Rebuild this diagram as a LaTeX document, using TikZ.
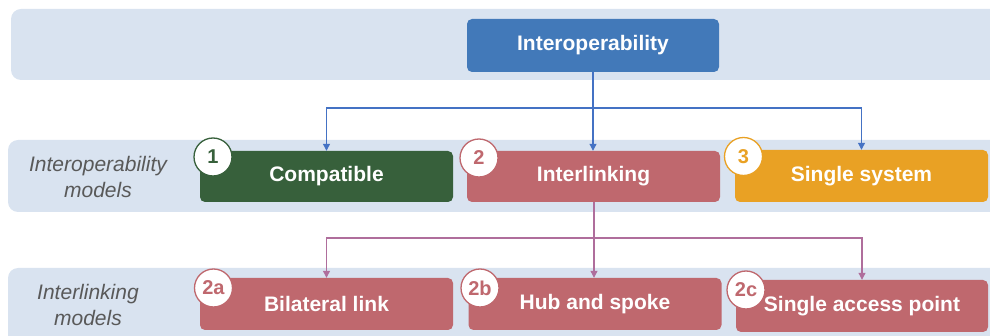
\documentclass[tikz,border=0pt]{standalone}
\usepackage{fontspec}
\setmainfont{Liberation Sans}
\usetikzlibrary{arrows.meta}
\definecolor{bandfill}{HTML}{D9E3F0}
\definecolor{topblue}{HTML}{4279B9}
\definecolor{compgreen}{HTML}{37603B}
\definecolor{linkrose}{HTML}{BF686E}
\definecolor{sysorange}{HTML}{E9A124}
\definecolor{labelgray}{HTML}{595959}
\definecolor{bluewire}{HTML}{4472C4}
\definecolor{rosewire}{HTML}{AF6E9C}
\tikzset{
  band/.style={fill=bandfill, draw=none, rounded corners=10pt},
  box/.style={draw=none, rounded corners=5pt, minimum width=253pt, minimum height=52pt,
    inner sep=0pt, text=white, font=\fontsize{21}{25}\selectfont\bfseries},
  badge/.style={circle, fill=white, draw=#1, line width=1.3pt, minimum size=38pt,
    inner sep=0pt, text=#1, font=\fontsize{20}{24}\selectfont\bfseries},
  rowlabel/.style={align=center, text=labelgray, font=\fontsize{21}{26}\selectfont\itshape},
  bluelink/.style={draw=bluewire, line width=1.1pt},
  roselink/.style={draw=rosewire, line width=1.1pt},
  tip/.style={-{Triangle[length=7pt,width=7pt]}}
}
\begin{document}
\begin{tikzpicture}[x=1pt, y=-1pt]
  \useasboundingbox (0,0) rectangle (990,336);
  \clip (0,0) rectangle (990,336);

  % background bands for the three levels
  \path[band] (11,9) rectangle (1010,80);
  \path[band] (8,140) rectangle (1010,212);
  \path[band] (8,268) rectangle (1010,346);

  % row labels
  \node[rowlabel] (lab1) at (98,177) {Interoperability\\models};
  \node[rowlabel] (lab2) at (88,305) {Interlinking\\models};

  % top level
  \node[box, fill=topblue, minimum width=252pt, minimum height=53pt] (interop) at (593,45.5) {Interoperability};

  % interoperability models
  \node[box, fill=compgreen, minimum height=51pt] (compat) at (326.5,176.5) {Compatible};
  \node[box, fill=linkrose, minimum height=51pt] (interl) at (593.5,176.5) {Interlinking};
  \node[box, fill=sysorange] (single) at (861.5,176) {Single system};

  % interlinking models
  \node[box, fill=linkrose] (bilat) at (326.5,304) {Bilateral link};
  \node[box, fill=linkrose] (hub) at (595,304) {Hub and spoke};
  \node[box, fill=linkrose, minimum width=252pt] (sap) at (862,306) {Single access point};

  % numbered badges
  \node[badge=compgreen] (n1) at (213,157) {1};
  \node[badge=linkrose] (n2) at (479,158) {2};
  \node[badge=sysorange] (n3) at (743.5,156.5) {3};
  \node[badge=linkrose] (n2a) at (213.5,288) {2a};
  \node[badge=linkrose] (n2b) at (480,288) {2b};
  \node[badge=linkrose] (n2c) at (746,290) {2c};

  % connectors from Interoperability
  \coordinate (j1) at (593,108);
  \draw[bluelink] (interop.south) -- (j1);
  \draw[bluelink, tip] (j1) -| (compat.north);
  \draw[bluelink, tip] (j1) -- (j1 |- interl.north);
  \draw[bluelink, tip] (j1) -| (single.north);

  % connectors from Interlinking
  \coordinate (j2) at (594,238);
  \draw[roselink] (j2 |- interl.south) -- (j2);
  \draw[roselink, tip] (j2) -| (bilat.north);
  \draw[roselink, tip] (j2) -- (j2 |- hub.north);
  \draw[roselink, tip] (j2) -| (sap.north);
\end{tikzpicture}
\end{document}
